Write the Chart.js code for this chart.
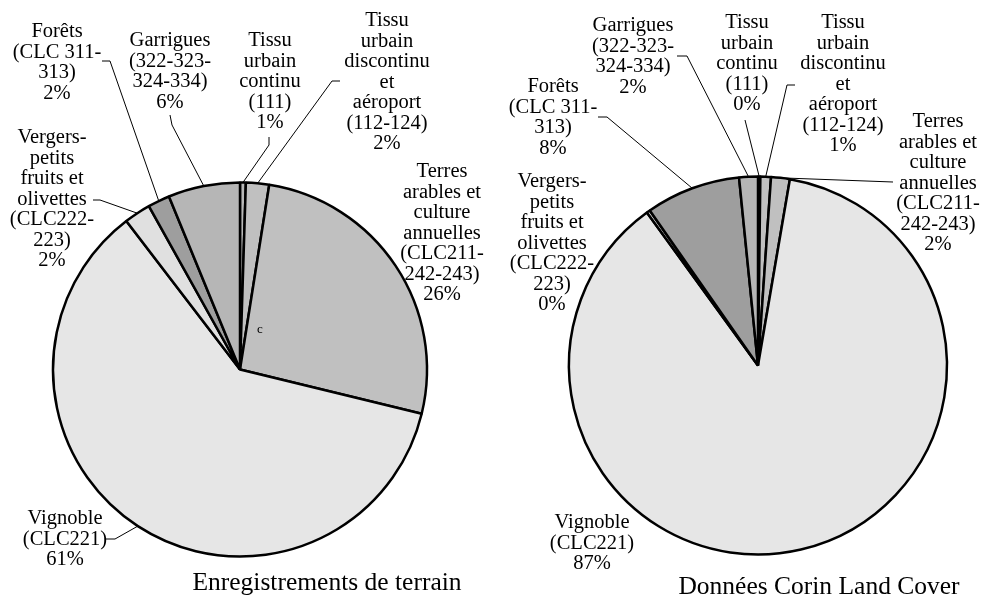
<!DOCTYPE html>
<html lang="fr">
<head>
  <meta charset="UTF-8">
  <title>Occupation du sol</title>
  <script src="https://cdn.jsdelivr.net/npm/chart.js"></script>
  <style>
    body { margin: 0; background: #fff; }
    #wrap { position: relative; width: 981px; height: 598px; }
    canvas { position: absolute; left: 0; top: 0; }
  </style>
</head>
<body>
  <div id="wrap">
    <canvas id="fieldPie" width="981" height="598"></canvas>
    <canvas id="clcPie" width="981" height="598"></canvas>
  </div>

  <script>
    // categories (label lines), clockwise from 12 o'clock
    const categories = [
      ['Tissu', 'urbain', 'continu', '(111)'],
      ['Tissu', 'urbain', 'discontinu', 'et', 'aéroport', '(112-124)'],
      ['Terres', 'arables et', 'culture', 'annuelles', '(CLC211-', '242-243)'],
      ['Vignoble', '(CLC221)'],
      ['Vergers-', 'petits', 'fruits et', 'olivettes', '(CLC222-', '223)'],
      ['Forêts', '(CLC 311-', '313)'],
      ['Garrigues', '(322-323-', '324-334)']
    ];
    const fieldValues = [0.5, 2.0, 26.3, 60.8, 2.3, 1.9, 6.2];
    const clcValues = [0.2, 0.9, 1.6, 87.3, 0.3, 8.1, 1.6];
    const fieldTitle = 'Enregistrements de terrain';
    const clcTitle = 'Données Corin Land Cover';

    const sliceColors = ['#b8b8b8', '#c0c0c0', '#c0c0c0', '#e6e6e6', '#e0e0e0', '#9e9e9e', '#b6b6b6'];

    // where each label sits: [centre x, first line y, leader points (text side)]
    const fieldPlaces = [
      [270, 41, [[269, 137], [269, 145]]],
      [387, 21, [[340, 81], [332, 81]]],
      [442, 172, null],
      [65, 519, [[105, 539], [115, 539]]],
      [52, 138, [[93, 200], [100, 200]]],
      [57, 32, [[102, 61], [110, 61]]],
      [170, 41, [[170, 115], [172, 125]]]
    ];
    const clcPlaces = [
      [747, 23, [[745, 120]]],
      [843, 23, [[795, 85], [787, 85]]],
      [938, 122, [[893, 182]]],
      [592, 523, null],
      [552, 182, null],
      [553, 87, [[598, 117], [607, 117]]],
      [633, 26, [[677, 56], [687, 56]]]
    ];

    const FONT = '"Liberation Serif", "Times New Roman", serif';

    const leaderLabels = {
      id: 'leaderLabels',
      afterDraw(chart, args, opts) {
        const ctx = chart.ctx;
        const arcs = chart.getDatasetMeta(0).data;
        const vals = chart.data.datasets[0].data;
        const total = vals.reduce((a, b) => a + b, 0);
        ctx.save();
        ctx.fillStyle = '#000';
        ctx.strokeStyle = '#000';
        ctx.lineWidth = 1;
        ctx.font = '20.5px ' + FONT;
        ctx.textAlign = 'center';
        ctx.textBaseline = 'middle';
        opts.places.forEach((p, i) => {
          const lines = chart.data.labels[i].concat(Math.round(vals[i] / total * 100) + '%');
          lines.forEach((t, k) => ctx.fillText(t, p[0], p[1] + k * 20.5));
          if (p[2]) {
            // leader runs from the text to the middle of the slice's rim
            const a = arcs[i];
            const mid = (a.startAngle + a.endAngle) / 2;
            ctx.beginPath();
            ctx.moveTo(p[2][0][0], p[2][0][1]);
            p[2].slice(1).forEach(pt => ctx.lineTo(pt[0], pt[1]));
            ctx.lineTo(a.x + Math.cos(mid) * a.outerRadius, a.y + Math.sin(mid) * a.outerRadius);
            ctx.stroke();
          }
        });
        if (opts.mark) {
          ctx.font = '13px ' + FONT;
          ctx.fillText(opts.mark[0], opts.mark[1], opts.mark[2]);
        }
        ctx.font = '25.5px ' + FONT;
        ctx.fillText(opts.title[0], opts.title[1], opts.title[2]);
        ctx.restore();
      }
    };

    function makePie(id, values, radius, padding, places, title, mark) {
      return new Chart(document.getElementById(id), {
        type: 'pie',
        data: {
          labels: categories,
          datasets: [{
            data: values,
            backgroundColor: sliceColors,
            borderColor: '#000',
            borderWidth: 2.5,
            radius: radius
          }]
        },
        options: {
          responsive: false,
          animation: false,
          devicePixelRatio: 1,
          events: [],
          layout: { padding },
          plugins: {
            legend: { display: false },
            tooltip: { enabled: false },
            leaderLabels: { places, title, mark }
          }
        },
        plugins: [leaderLabels]
      });
    }

    makePie('fieldPie', fieldValues, 187, { left: 0, right: 501, top: 180, bottom: 39 },
      fieldPlaces, [fieldTitle, 327, 583], ['c', 260, 330]);
    makePie('clcPie', clcValues, 189, { left: 570, right: 35, top: 176, bottom: 43 },
      clcPlaces, [clcTitle, 819, 587], null);
  </script>
</body>
</html>
